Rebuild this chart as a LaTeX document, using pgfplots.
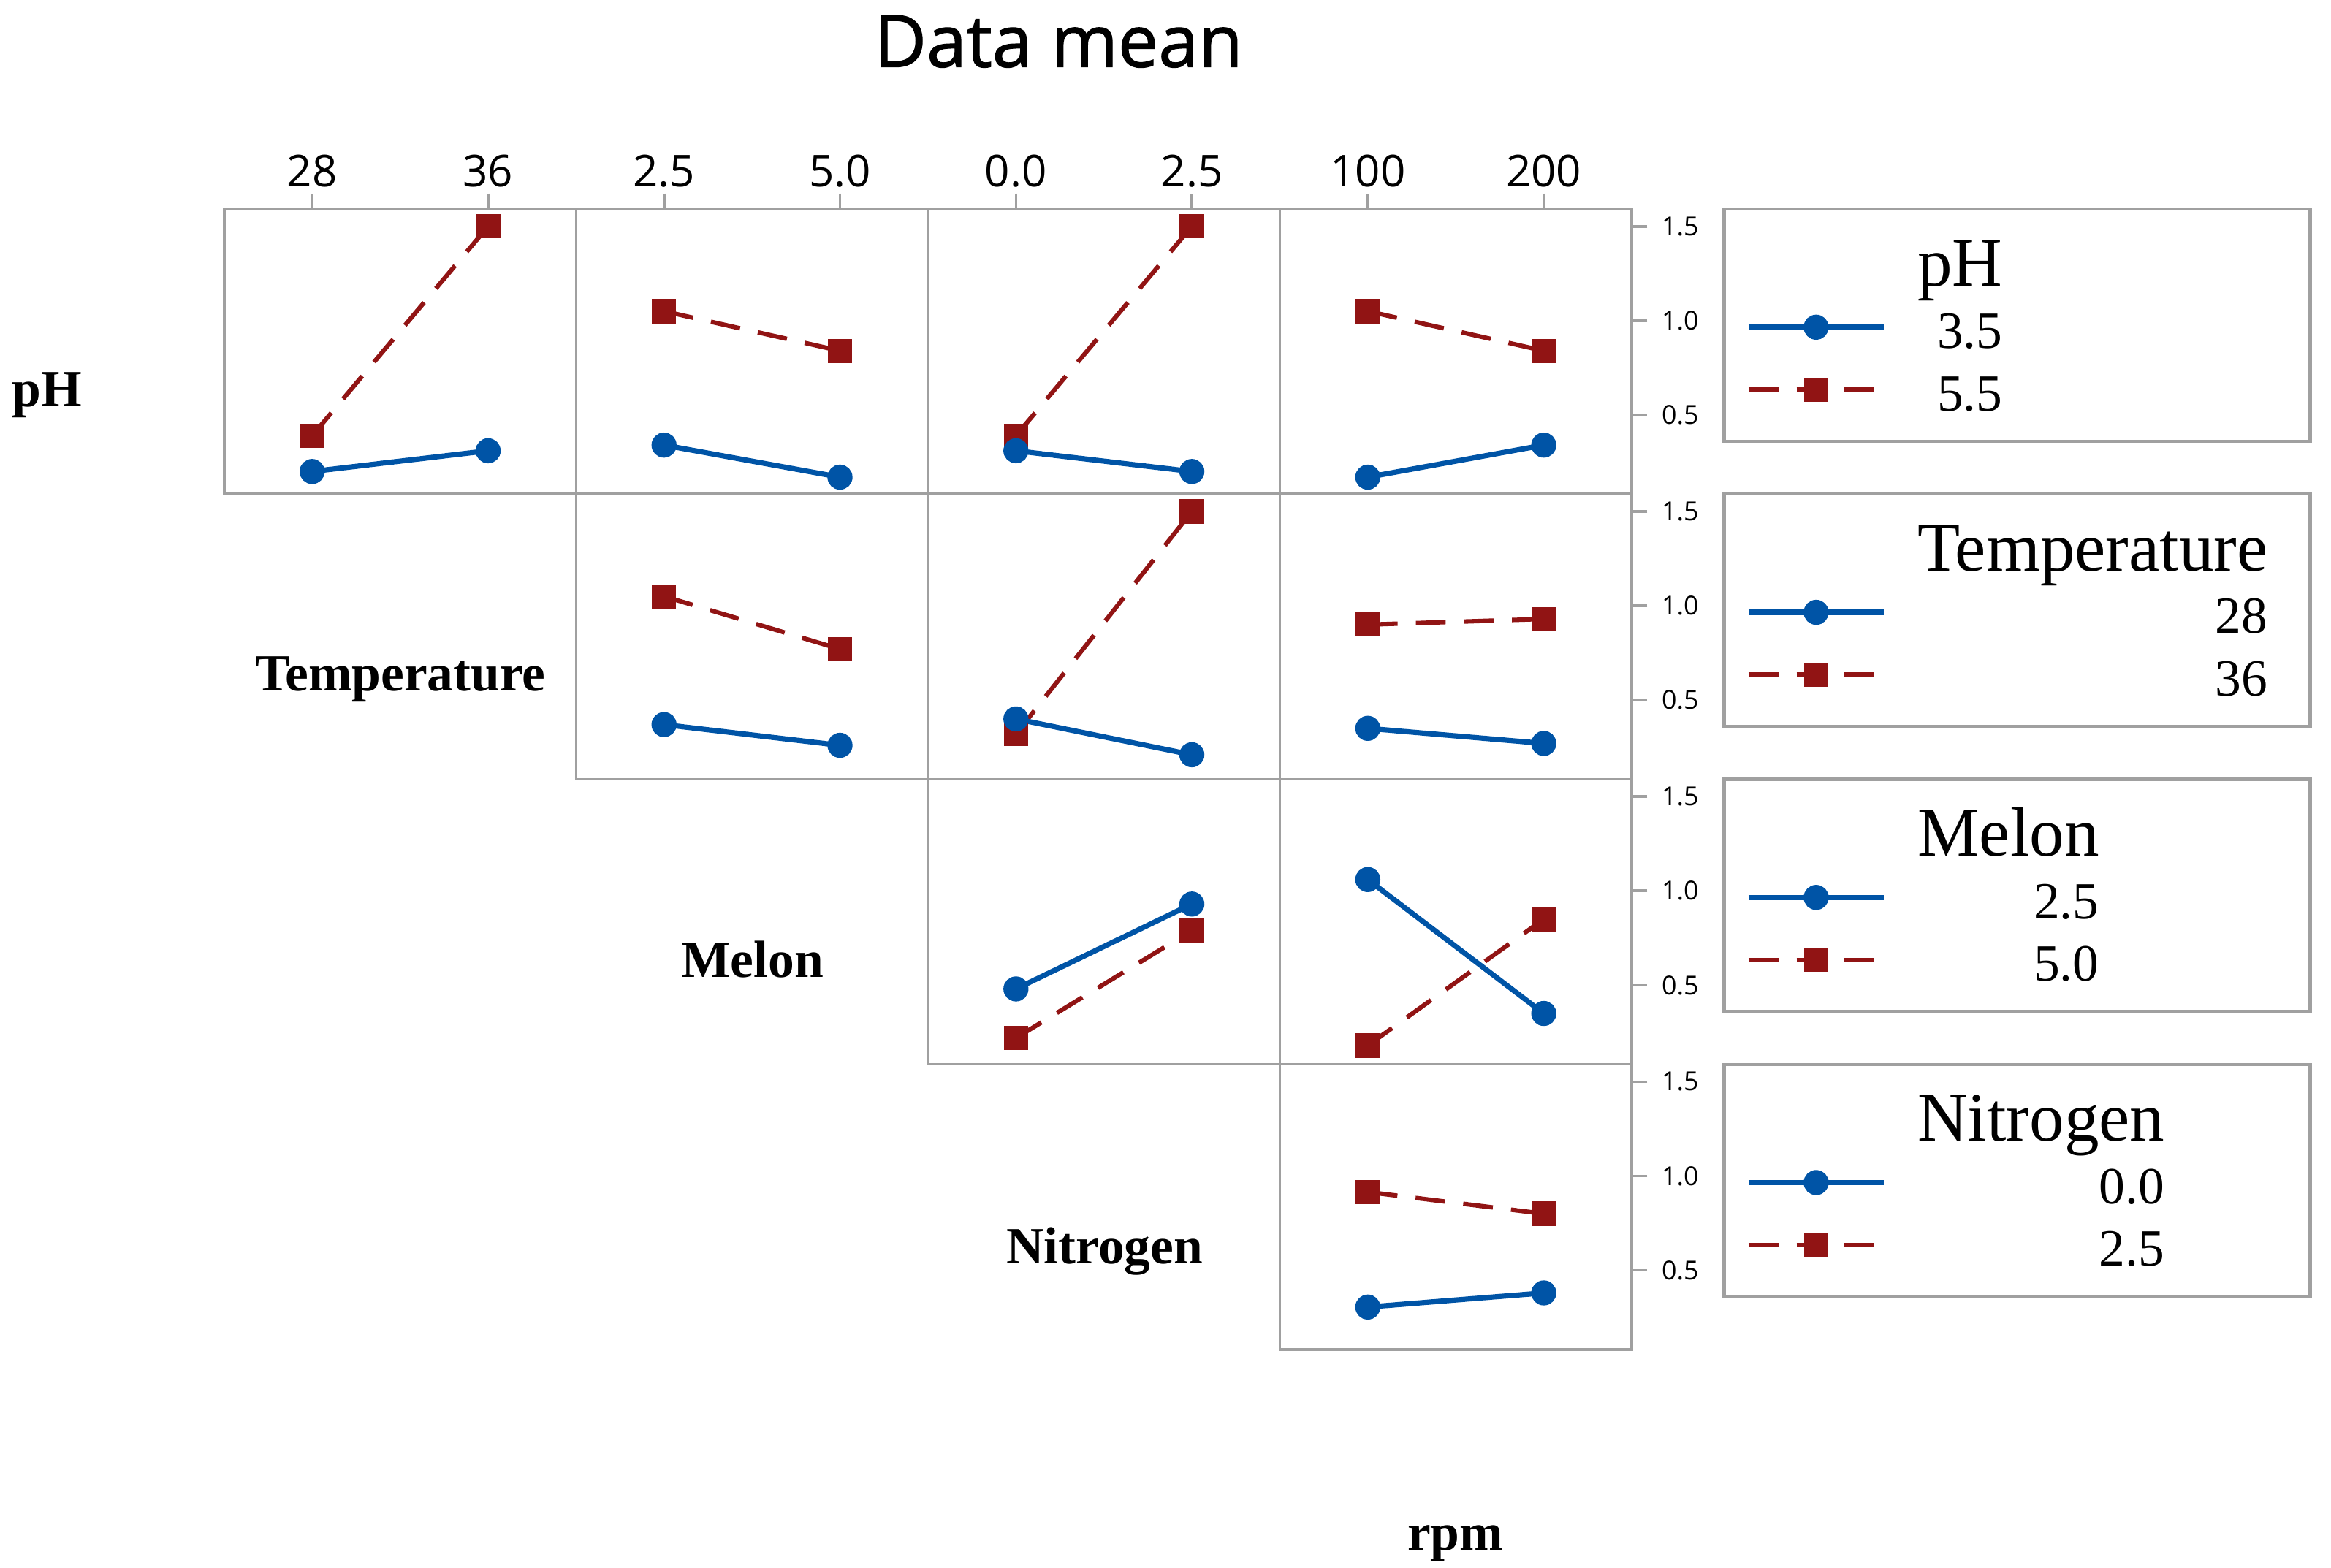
\documentclass[border=0pt]{standalone}
\usepackage{fontspec}
\setmainfont{Liberation Serif}
\newfontfamily\sansfont{Open Sans}
\newfontfamily\titlesans{Open Sans}[FakeBold=1.3]
\usepackage{pgfplots}
\pgfplotsset{compat=1.18}

\definecolor{mtblue}{RGB}{0,84,166}
\definecolor{mtred}{RGB}{145,20,20}
\definecolor{framegray}{RGB}{160,160,160}

\newcommand\tickfont{\sansfont\fontsize{8.4}{9}\selectfont}
\newcommand\ytickfont{\sansfont\fontsize{5}{6}\selectfont}
\newcommand\legtitle{\fontsize{13.3}{14}\selectfont}

\pgfplotsset{
  panel/.style={scale only axis, width=2.367cm, height=1.918cm, anchor=north west,
    ymin=0.08, ymax=1.592, xtick=\empty, ytick=\empty,
    axis line style={draw=framegray, line width=0.5pt},
    tick style={draw=framegray, line width=0.5pt},
    major tick length=0.105cm},
  toprow/.style={xtick pos=upper, xticklabel pos=upper, xtick align=outside,
    xticklabel style={font=\tickfont, text=black, inner sep=0pt, yshift=0.035cm}},
  rightcol/.style={ytick={0.5,1,1.5}, yticklabels={0.5,1.0,1.5},
    ytick pos=right, yticklabel pos=right, ytick align=outside,
    yticklabel style={font=\ytickfont, text=black, inner sep=0pt, xshift=0.09cm}},
  lo/.style={mtblue, solid, line width=1pt, mark=*, mark size=1.9pt,
    mark options={solid, fill=mtblue, draw=mtblue}},
  hi/.style={mtred, dash pattern=on 5.7pt off 3.5pt, line width=0.85pt, mark=square*,
    mark size=1.9pt, mark options={solid, fill=mtred, draw=mtred}},
  leg/.style={legend style={at={(1.3215,0.8957)}, anchor=north west, draw=none, fill=none,
      inner sep=0pt, row sep=0pt,
      nodes={inner sep=0pt, text height=0.31cm, text depth=0.11cm, font=\fontsize{10}{12}\selectfont},
      /tikz/every odd column/.append style={column sep=0.21cm}},
    legend cell align=right,
    legend image post style={yshift=0.042cm},
    legend image code/.code={\draw[mark repeat=2,mark phase=2,##1]
      plot coordinates {(0cm,0cm) (0.455cm,0cm) (0.91cm,0cm)};}},
}

\begin{document}
\begin{tikzpicture}
\useasboundingbox (0,0) rectangle (15.68,-10.548);

\node[font=\titlesans\fontsize{13.8}{15}\selectfont, anchor=base] at (7.12,-0.45) {Data mean};

% row labels
\node[font=\bfseries\fontsize{10}{12}\selectfont, anchor=base] at (0.317,-2.733) {pH};
\node[font=\bfseries\fontsize{10}{12}\selectfont, anchor=base] at (2.692,-4.646) {Temperature};
\node[font=\bfseries\fontsize{10}{12}\selectfont, anchor=base] at (5.06,-6.573) {Melon};
\node[font=\bfseries\fontsize{10}{12}\selectfont, anchor=base] at (7.43,-8.50) {Nitrogen};
\node[font=\bfseries\fontsize{10}{12}\selectfont, anchor=base] at (9.79,-10.427) {rpm};

% legend frames
\foreach \t in {1.406,3.324,5.242,7.160}
  \draw[framegray, line width=0.6pt] (11.598,-\t) rectangle (15.539,-\t-1.563);

% ---- row pH ----
\begin{axis}[panel, toprow, at={(1.508cm,-1.406cm)}, xmin=24, xmax=40, xtick={28,36}, xticklabels={28,36}]
\addplot[hi] coordinates {(28,0.39) (36,1.50)};
\addplot[lo] coordinates {(28,0.20) (36,0.31)};
\end{axis}
\begin{axis}[panel, toprow, at={(3.875cm,-1.406cm)}, xmin=1.25, xmax=6.25, xtick={2.5,5}, xticklabels={2.5,5.0}]
\addplot[hi] coordinates {(2.5,1.05) (5,0.84)};
\addplot[lo] coordinates {(2.5,0.34) (5,0.17)};
\end{axis}
\begin{axis}[panel, toprow, at={(6.242cm,-1.406cm)}, xmin=-1.25, xmax=3.75, xtick={0,2.5}, xticklabels={0.0,2.5}]
\addplot[hi] coordinates {(0,0.39) (2.5,1.50)};
\addplot[lo] coordinates {(0,0.31) (2.5,0.20)};
\end{axis}
\begin{axis}[panel, toprow, rightcol, leg, at={(8.609cm,-1.406cm)}, xmin=50, xmax=250, xtick={100,200}, xticklabels={100,200}]
\addlegendimage{empty legend}
\addlegendimage{lo}
\addlegendimage{hi}
\addplot[hi, forget plot] coordinates {(100,1.05) (200,0.84)};
\addplot[lo, forget plot] coordinates {(100,0.17) (200,0.34)};
\legend{\legtitle pH, 3.5, 5.5}
\end{axis}

% ---- row Temperature ----
\begin{axis}[panel, at={(3.875cm,-3.324cm)}, xmin=1.25, xmax=6.25]
\addplot[hi] coordinates {(2.5,1.05) (5,0.77)};
\addplot[lo] coordinates {(2.5,0.37) (5,0.26)};
\end{axis}
\begin{axis}[panel, at={(6.242cm,-3.324cm)}, xmin=-1.25, xmax=3.75]
\addplot[hi] coordinates {(0,0.32) (2.5,1.50)};
\addplot[lo] coordinates {(0,0.40) (2.5,0.21)};
\end{axis}
\begin{axis}[panel, rightcol, leg, at={(8.609cm,-3.324cm)}, xmin=50, xmax=250]
\addlegendimage{empty legend}
\addlegendimage{lo}
\addlegendimage{hi}
\addplot[hi, forget plot] coordinates {(100,0.90) (200,0.93)};
\addplot[lo, forget plot] coordinates {(100,0.35) (200,0.27)};
\legend{\legtitle Temperature, 28, 36}
\end{axis}

% ---- row Melon ----
\begin{axis}[panel, at={(6.242cm,-5.242cm)}, xmin=-1.25, xmax=3.75]
\addplot[hi] coordinates {(0,0.22) (2.5,0.79)};
\addplot[lo] coordinates {(0,0.48) (2.5,0.93)};
\end{axis}
\begin{axis}[panel, rightcol, leg, at={(8.609cm,-5.242cm)}, xmin=50, xmax=250]
\addlegendimage{empty legend}
\addlegendimage{lo}
\addlegendimage{hi}
\addplot[hi, forget plot] coordinates {(100,0.18) (200,0.85)};
\addplot[lo, forget plot] coordinates {(100,1.06) (200,0.35)};
\legend{\legtitle Melon, 2.5, 5.0}
\end{axis}

% ---- row Nitrogen ----
\begin{axis}[panel, rightcol, leg, at={(8.609cm,-7.160cm)}, xmin=50, xmax=250]
\addlegendimage{empty legend}
\addlegendimage{lo}
\addlegendimage{hi}
\addplot[hi, forget plot] coordinates {(100,0.915) (200,0.80)};
\addplot[lo, forget plot] coordinates {(100,0.305) (200,0.38)};
\legend{\legtitle Nitrogen, 0.0, 2.5}
\end{axis}
\end{tikzpicture}
\end{document}
